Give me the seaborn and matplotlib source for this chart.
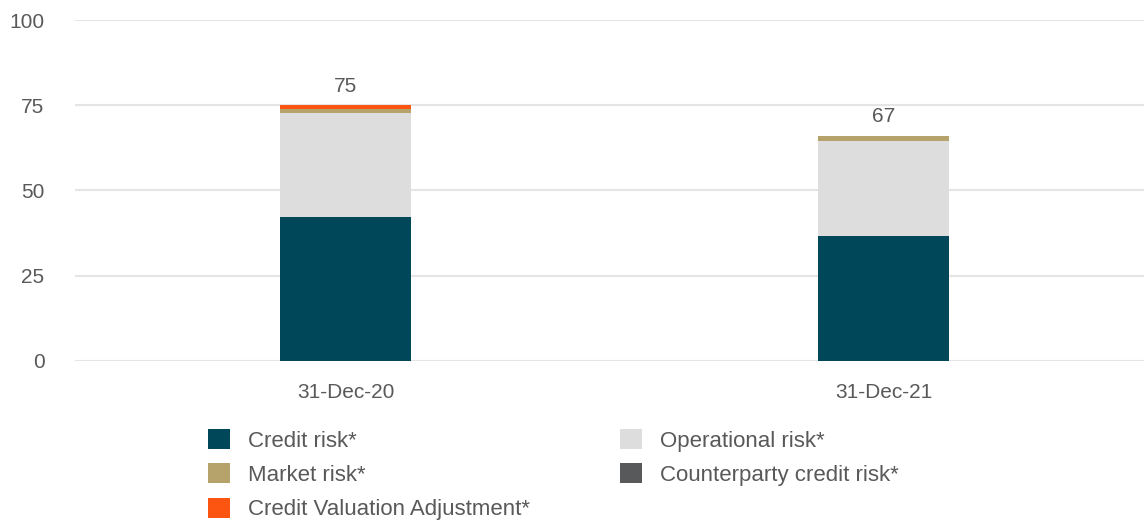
import matplotlib
matplotlib.use("Agg")
import matplotlib.pyplot as plt
from matplotlib.patches import Patch
import seaborn as sns
import pandas as pd
import numpy as np

# data
dates = ["31-Dec-20", "31-Dec-21"]
credit_risk = [42.2, 36.5]
operational_risk = [30.6, 28.1]
market_risk = [1.1, 1.4]
counterparty_risk = [0.1, 0.0]
cva = [1.0, 0.0]
totals = ["75", "67"]

series = [
    ("Credit risk*", credit_risk, "#00475A"),
    ("Operational risk*", operational_risk, "#DDDDDD"),
    ("Market risk*", market_risk, "#B5A36B"),
    ("Counterparty credit risk*", counterparty_risk, "#58595B"),
    ("Credit Valuation Adjustment*", cva, "#FC5511"),
]

sns.set_theme(style="white")
plt.rcParams["font.family"] = ["Liberation Sans", "DejaVu Sans"]
text_color = "#595959"

fig = plt.figure(figsize=(11.44, 5.2), dpi=100)
ax = fig.add_axes([0.0656, 0.306, 0.9344, 0.6555])

# stacked bars: draw cumulative heights, tallest first
cum = np.cumsum([s[1] for s in series], axis=0)
for i in range(len(series) - 1, -1, -1):
    df = pd.DataFrame({"date": dates, "value": cum[i]})
    sns.barplot(data=df, x="date", y="value", color=series[i][2],
                width=0.2435, saturation=1, linewidth=0, ax=ax, zorder=3)

# value labels above bars
for i, lab in enumerate(totals):
    ax.text(i, cum[-1][i] + 2.8, lab, ha="center", va="bottom",
            fontsize=15, color=text_color)

ax.set_ylim(0, 100)
ax.set_xlim(-0.503, 1.484)
ax.set_yticks([0, 25, 50, 75, 100])
ax.yaxis.grid(True, color="#E5E5E5", linewidth=1.5, zorder=0)
ax.set_axisbelow(True)
for sp in ax.spines.values():
    sp.set_visible(False)
ax.set_xlabel("")
ax.set_ylabel("")
ax.tick_params(axis="both", length=0, labelsize=15, labelcolor=text_color)
ax.tick_params(axis="y", pad=22)
ax.tick_params(axis="x", pad=16)

# legend: column-wise order gives the reference's row layout
order = [0, 2, 4, 1, 3]
handles = [Patch(facecolor=series[k][2], edgecolor="none") for k in order]
labels = [series[k][0] for k in order]
fig.legend(handles, labels, loc="upper left", bbox_to_anchor=(0.1818, 0.175),
           ncol=2, frameon=False, fontsize=16, labelcolor=text_color,
           handlelength=1.0, handleheight=1.0, handletextpad=0.8,
           columnspacing=4.05, labelspacing=0.53, borderpad=0, borderaxespad=0)

fig.savefig("out.png", dpi=100)
